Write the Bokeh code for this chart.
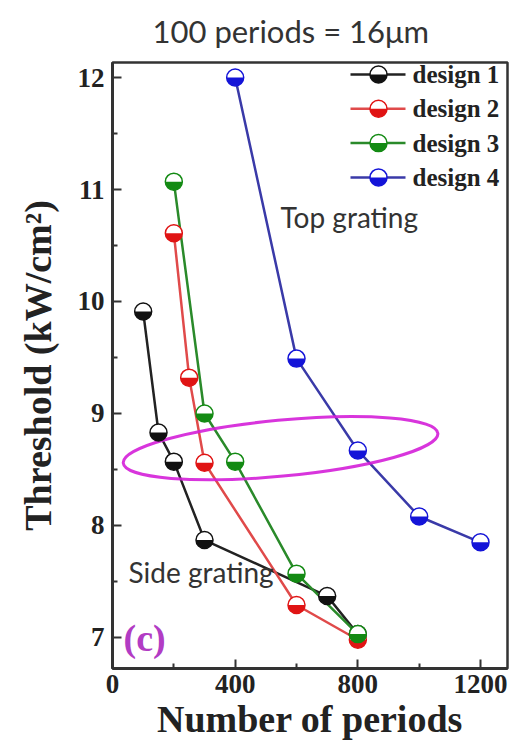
import math

from bokeh.core.properties import value
from bokeh.embed import file_html
from bokeh.models import FixedTicker, Label, Range1d, Title
from bokeh.plotting import figure
from bokeh.resources import INLINE

# ---- data: lasing threshold vs. number of grating periods ----
periods_d1 = [100, 150, 200, 300, 700, 800]
threshold_d1 = [9.91, 8.83, 8.57, 7.87, 7.37, 7.03]

periods_d2 = [200, 250, 300, 600, 800]
threshold_d2 = [10.61, 9.32, 8.56, 7.29, 6.98]

periods_d3 = [200, 300, 400, 600, 800]
threshold_d3 = [11.07, 9.00, 8.57, 7.57, 7.03]

periods_d4 = [400, 600, 800, 1000, 1200]
threshold_d4 = [12.00, 9.49, 8.67, 8.08, 7.85]

design_names = ["design 1", "design 2", "design 3", "design 4"]
x_ticks = [0, 400, 800, 1200]
y_ticks = [7, 8, 9, 10, 11, 12]

series = [
    (periods_d1, threshold_d1, "#111111", "#222222"),
    (periods_d2, threshold_d2, "#e01414", "#e04a4a"),
    (periods_d3, threshold_d3, "#138a13", "#2a8a2a"),
    (periods_d4, threshold_d4, "#1414d8", "#3a3aa8"),
]

# ---- layout ----
W, H = 514, 750
FL, FR, FT, FB = 112, 7, 62, 82          # borders around the frame
FW, FH = W - FL - FR, H - FT - FB        # frame size in pixels

SERIF = "Liberation Serif"
SANS = "Lato"
INK = "#222222"

p = figure(
    width=W, height=H,
    x_range=Range1d(0, 1288), y_range=Range1d(6.723, 12.134),
    output_backend="svg", toolbar_location=None,
    min_border_left=FL, min_border_right=FR,
    min_border_top=0, min_border_bottom=FB,
    background_fill_color="white", border_fill_color="white",
)
# pixel coordinates of the frame (origin bottom-left) for annotations
p.extra_x_ranges = {"px": Range1d(0, FW)}
p.extra_y_ranges = {"px": Range1d(0, FH)}

p.grid.visible = False
p.outline_line_color = "#333333"
p.outline_line_width = 2.5

for ax in (p.xaxis[0], p.yaxis[0]):
    ax.axis_line_width = 3
    ax.axis_line_color = "#333333"
    ax.major_tick_in = 9
    ax.major_tick_out = 0
    ax.minor_tick_in = 5
    ax.minor_tick_out = 0
    ax.major_tick_line_width = 2
    ax.minor_tick_line_width = 2
    ax.major_tick_line_color = "#333333"
    ax.minor_tick_line_color = "#333333"
    ax.major_label_text_font = SERIF
    ax.major_label_text_font_style = "bold"
    ax.major_label_text_font_size = "27px"
    ax.major_label_text_color = INK
    ax.axis_label_text_font = SERIF
    ax.axis_label_text_font_style = "bold"
    ax.axis_label_text_color = INK

p.xaxis[0].ticker = FixedTicker(ticks=x_ticks, minor_ticks=[200, 600, 1000])
p.yaxis[0].ticker = FixedTicker(ticks=y_ticks,
                                minor_ticks=[6.5 + i for i in range(1, 6)])
p.xaxis[0].major_label_standoff = 6
p.yaxis[0].major_label_standoff = 8

p.xaxis[0].axis_label = "Number of periods"
p.xaxis[0].axis_label_text_font_size = "38px"
p.xaxis[0].axis_label_standoff = 2
p.yaxis[0].axis_label = "Threshold (kW/cm²)"
p.yaxis[0].axis_label_text_font_size = "38px"
p.yaxis[0].axis_label_standoff = 16

# the title alone sets the height of the band above the frame
p.add_layout(Title(text="100 periods = 16μm", align="left", offset=40,
                   vertical_align="top",
                   text_font=SANS, text_font_size="31px",
                   text_font_style="normal", text_color="#333333",
                   standoff=22), "above")

# ---- connecting lines ----
for xs, ys, mcol, lcol in series:
    p.line(xs, ys, line_color=lcol, line_width=2.5)

# highlight ellipse around the ~8.6 kW/cm2 points
p.ellipse(x=[548], y=[8.69], width=316, height=56,
          width_units="screen", height_units="screen", angle=0.094,
          fill_color=None, line_color="#d41fd8", line_width=3, line_alpha=0.9)

# ---- half-filled markers ----
R = 8.5
for xs, ys, mcol, lcol in series:
    p.scatter(xs, ys, marker="circle", size=2 * R, fill_color="white",
              line_color=mcol, line_width=1.5)
    p.wedge(xs, ys, radius=R, radius_units="screen",
            start_angle=math.pi, end_angle=2 * math.pi,
            fill_color=mcol, line_color=None)

# ---- legend (frame pixel coordinates) ----
LEG_MX, LEG_L0, LEG_L1, LEG_TX = 266, 238, 293, 300
LEG_Y0, LEG_DY = 594, 34.3
for i, (name, (xs, ys, mcol, lcol)) in enumerate(zip(design_names, series)):
    yy = LEG_Y0 - i * LEG_DY
    p.line([LEG_L0, LEG_L1], [yy, yy], line_color=lcol, line_width=2.5,
           x_range_name="px", y_range_name="px")
    p.scatter([LEG_MX], [yy], marker="circle", size=2 * R, fill_color="white",
              line_color=mcol, line_width=1.5,
              x_range_name="px", y_range_name="px")
    p.wedge([LEG_MX], [yy], radius=R, radius_units="screen",
            start_angle=math.pi, end_angle=2 * math.pi,
            fill_color=mcol, line_color=None,
            x_range_name="px", y_range_name="px")
    p.text([LEG_TX], [yy], text=[name], text_font=value(SERIF),
           text_font_style="bold", text_font_size="25px", text_color=INK,
           text_baseline="middle", x_range_name="px", y_range_name="px")

# ---- in-frame texts ----
def add_label(text, x, y, **kw):
    p.add_layout(Label(x=x, y=y, text=text, x_range_name="px",
                       y_range_name="px", **kw))

add_label("Top grating", 168, 452, text_font=SANS, text_font_size="28px",
          text_color="#333333", text_baseline="alphabetic")
add_label("Side grating", 16, 97, text_font=SANS, text_font_size="28px",
          text_color="#333333", text_baseline="alphabetic")
add_label("(c)", 11, 31, text_font=SERIF, text_font_style="bold",
          text_font_size="38px", text_color="#b23cc4",
          text_baseline="middle")

open("out.html", "w").write(file_html(p, INLINE))
